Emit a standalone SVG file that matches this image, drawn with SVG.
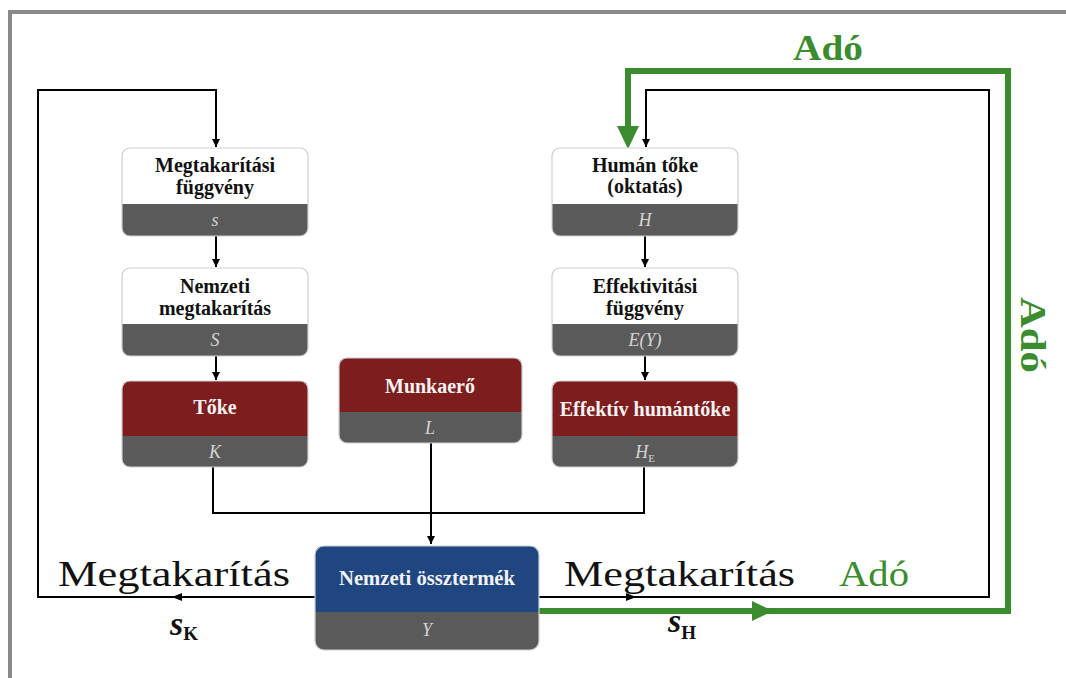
<svg xmlns="http://www.w3.org/2000/svg" width="1066" height="678" viewBox="0 0 1066 678">
<defs>
<marker id="ah" viewBox="0 0 10 10" refX="10" refY="5" markerWidth="8" markerHeight="10" markerUnits="userSpaceOnUse" orient="auto">
<path d="M0,0 L10,5 L0,10 Z" fill="#000"/>
</marker>
</defs>
<style>
.frame{fill:none;stroke:#8a8a8a;stroke-width:4}
.ln{fill:none;stroke:#000;stroke-width:2}
.gl{fill:none;stroke:#3b8b2f;stroke-width:6;stroke-linejoin:miter}
.gf{fill:#3b8b2f}
.band{fill:#5a5a5a}
.white{fill:#ffffff}
.red{fill:#7d1d1e}
.blue{fill:#204682}
.outl{fill:none;stroke:#cfcfcf;stroke-width:1.2}
.tt{font-family:"Liberation Serif",serif;font-weight:bold;font-size:20px;text-anchor:middle}
.dk{fill:#111}
.lt{fill:#f2f2f2}
.bt{font-family:"Liberation Serif",serif;font-style:italic;font-size:18px;fill:#d4d4d4;text-anchor:middle}
.big{font-family:"Liberation Serif",serif;font-size:35px;fill:#111}
.ado{font-family:"Liberation Serif",serif;font-size:35px;fill:#3b8b2f}
.math{font-family:"Liberation Serif",serif;font-weight:bold;fill:#111}
</style>
<rect class="frame" x="10" y="12" width="1100" height="700"/>

<g id="connectors">
<path class="ln" d="M315,597 H38 V90 H216 V147" marker-end="url(#ah)"/>
<path d="M172,597 L182,593 L182,601 Z" fill="#000"/>
<path class="ln" d="M538,597 H989 V90 H646 V147" marker-end="url(#ah)"/>
<path d="M636,597 L626,593 L626,601 Z" fill="#000"/>
<path class="ln" d="M216,236 V267" marker-end="url(#ah)"/>
<path class="ln" d="M216,356 V380" marker-end="url(#ah)"/>
<path class="ln" d="M645,236 V267" marker-end="url(#ah)"/>
<path class="ln" d="M645,356 V380" marker-end="url(#ah)"/>
<path class="ln" d="M213,467 V513 H644 V467"/>
<path class="ln" d="M431,443 V544" marker-end="url(#ah)"/>
<path class="gl" d="M538,611 H1008 V71 H628 V128"/>
<path class="gf" d="M617,126 L639,126 L628,149 Z"/>
<path class="gf" d="M752,601 L773,611 L752,621 Z"/>
</g>

<g id="node-megtakaritasi-fuggveny">
<rect class="band" x="122" y="148" width="186" height="88" rx="8"/>
<path class="white" d="M122,204 V156 Q122,148 130,148 H300 Q308,148 308,156 V204 Z"/>
<rect class="outl" x="122" y="148" width="186" height="88" rx="8"/>
<text class="tt dk" x="215" y="172">Megtakarítási</text>
<text class="tt dk" x="215" y="194">függvény</text>
<text class="bt" x="215" y="226">s</text>
</g>

<g id="node-nemzeti-megtakaritas">
<rect class="band" x="122" y="268" width="186" height="88" rx="8"/>
<path class="white" d="M122,324 V276 Q122,268 130,268 H300 Q308,268 308,276 V324 Z"/>
<rect class="outl" x="122" y="268" width="186" height="88" rx="8"/>
<text class="tt dk" x="215" y="293">Nemzeti</text>
<text class="tt dk" x="215" y="315">megtakarítás</text>
<text class="bt" x="215" y="346">S</text>
</g>

<g id="node-toke">
<rect class="band" x="122" y="381" width="186" height="86" rx="8"/>
<path class="red" d="M122,436 V389 Q122,381 130,381 H300 Q308,381 308,389 V436 Z"/>
<rect class="outl" x="122" y="381" width="186" height="86" rx="8"/>
<text class="tt lt" x="215" y="414">Tőke</text>
<text class="bt" x="215" y="458">K</text>
</g>

<g id="node-munkaero">
<rect class="band" x="339" y="358" width="183" height="85" rx="8"/>
<path class="red" d="M339,412 V366 Q339,358 347,358 H514 Q522,358 522,366 V412 Z"/>
<rect class="outl" x="339" y="358" width="183" height="85" rx="8"/>
<text class="tt lt" x="430" y="393">Munkaerő</text>
<text class="bt" x="430" y="434">L</text>
</g>

<g id="node-human-toke">
<rect class="band" x="552" y="148" width="186" height="88" rx="8"/>
<path class="white" d="M552,204 V156 Q552,148 560,148 H730 Q738,148 738,156 V204 Z"/>
<rect class="outl" x="552" y="148" width="186" height="88" rx="8"/>
<text class="tt dk" x="645" y="172">Humán tőke</text>
<text class="tt dk" x="645" y="193">(oktatás)</text>
<text class="bt" x="645" y="226">H</text>
</g>

<g id="node-effektivitasi-fuggveny">
<rect class="band" x="552" y="268" width="186" height="88" rx="8"/>
<path class="white" d="M552,324 V276 Q552,268 560,268 H730 Q738,268 738,276 V324 Z"/>
<rect class="outl" x="552" y="268" width="186" height="88" rx="8"/>
<text class="tt dk" x="645" y="293">Effektivitási</text>
<text class="tt dk" x="645" y="315">függvény</text>
<text class="bt" x="645" y="346">E(Y)</text>
</g>

<g id="node-effektiv-humantoke">
<rect class="band" x="552" y="381" width="186" height="86" rx="8"/>
<path class="red" d="M552,436 V389 Q552,381 560,381 H730 Q738,381 738,389 V436 Z"/>
<rect class="outl" x="552" y="381" width="186" height="86" rx="8"/>
<text class="tt lt" x="645" y="416">Effektív humántőke</text>
<text class="bt" x="645" y="458">H<tspan font-size="11" font-style="normal" dy="4">E</tspan></text>
</g>

<g id="node-nemzeti-ossztermek">
<rect class="band" x="315" y="546" width="224" height="104" rx="9"/>
<path class="blue" d="M315,612 V555 Q315,546 324,546 H530 Q539,546 539,555 V612 Z"/>
<rect class="outl" x="315" y="546" width="224" height="104" rx="9"/>
<text class="tt lt" x="427" y="585" textLength="176" lengthAdjust="spacingAndGlyphs">Nemzeti össztermék</text>
<text class="bt" x="427" y="636">Y</text>
</g>

<g id="labels">
<text class="big" x="58" y="586" textLength="232" lengthAdjust="spacingAndGlyphs">Megtakarítás</text>
<text class="big" x="564" y="586" textLength="231" lengthAdjust="spacingAndGlyphs">Megtakarítás</text>
<text class="ado" x="839" y="586" textLength="70" lengthAdjust="spacingAndGlyphs">Adó</text>
<text class="ado" x="793" y="60" font-weight="bold" textLength="70" lengthAdjust="spacingAndGlyphs">Adó</text>
<text class="ado" font-weight="bold" transform="translate(1021,297) rotate(90)" textLength="76" lengthAdjust="spacingAndGlyphs">Adó</text>
<text class="math" x="170" y="635" font-size="34" font-style="italic">s<tspan font-size="19" font-style="normal" dy="5">K</tspan></text>
<text class="math" x="668" y="632" font-size="34" font-style="italic">s<tspan font-size="19" font-style="normal" dy="7">H</tspan></text>
</g>
</svg>
